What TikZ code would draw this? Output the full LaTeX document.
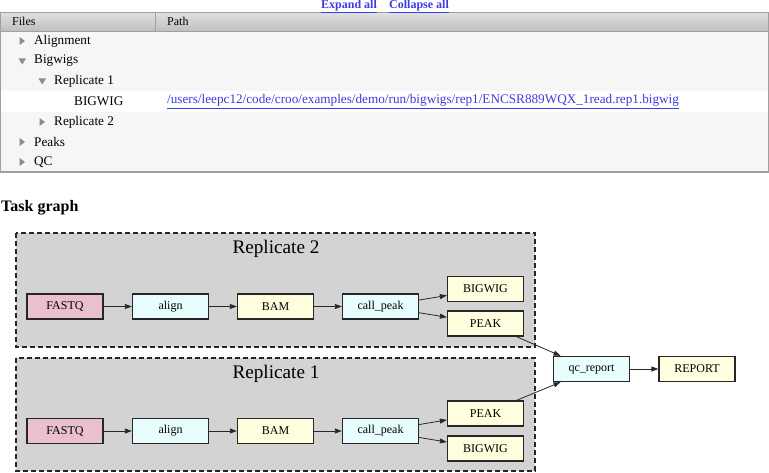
\documentclass[tikz,border=0pt]{standalone}
\usepackage{fontspec}
\setmainfont{Liberation Serif}
\usetikzlibrary{arrows.meta,calc}
\definecolor{linkblue}{RGB}{60,60,225}
\definecolor{rowbg}{RGB}{246,246,246}
\definecolor{tblborder}{RGB}{160,160,160}
\definecolor{tri}{RGB}{140,140,140}
\definecolor{fpink}{RGB}{234,192,204}
\definecolor{fcyan}{RGB}{232,253,253}
\definecolor{fyellow}{RGB}{255,255,224}
\definecolor{clgray}{RGB}{211,211,211}
\definecolor{edgecol}{RGB}{40,40,40}
\tikzset{
  lnk/.style={anchor=base west, inner sep=0, text=linkblue, font=\fontsize{12}{14}\selectfont\bfseries},
  rowtxt/.style={anchor=west, inner sep=0, font=\fontsize{13.2}{15}\selectfont},
  hdrtxt/.style={anchor=west, inner sep=0, font=\fontsize{12}{14}\selectfont},
  task/.style={draw=black!85, line width=1.3pt, minimum width=76pt, minimum height=25pt, inner sep=0, font=\fontsize{12}{14}\selectfont},
  pinkbox/.style={task, fill=fpink},
  cyanbox/.style={task, fill=fcyan},
  yelbox/.style={task, fill=fyellow},
  cluster/.style={draw=black!85, fill=clgray, line width=1.3pt, dash pattern=on 5pt off 3pt},
  cltitle/.style={inner sep=0, font=\fontsize{19.2}{22}\selectfont},
  flow/.style={draw=edgecol, line width=0.8pt, -{Triangle[length=7pt,width=5pt]}},
  rtri/.style={fill=tri, draw=none},
}
\begin{document}
\begin{tikzpicture}[x=1pt,y=-1pt]
\useasboundingbox (0,0) rectangle (769,473);
% table
\fill[rowbg] (0,31) rectangle (769,172);
\fill[white] (1,91.5) rectangle (768,111.7);
\shade[top color=black!12, bottom color=black!25] (0,12.5) rectangle (769,31);
\draw[tblborder, line width=0.8pt] (0,31) -- (769,31);
\draw[tblborder, line width=0.8pt] (155,12.5) -- (155,31);
\draw[tblborder, line width=1.2pt] (0.6,12.5) rectangle (768.4,172);
% links
\node[lnk] (expand) at (321,8.3) {\underline{Expand all}};
\node[lnk] (collapse) at (389,8.3) {\underline{Collapse all}};
\node[hdrtxt] (hfiles) at (12,21.5) {Files};
\node[hdrtxt] (hpath) at (167,21.5) {Path};
% row triangles
\fill[rtri] (19.5,37) -- (25,41) -- (19.5,45) -- cycle;
\fill[rtri] (18.5,58.5) -- (26,58.5) -- (22.25,64.5) -- cycle;
\fill[rtri] (38.5,78.5) -- (46,78.5) -- (42.25,84.5) -- cycle;
\fill[rtri] (39.5,118) -- (45,122) -- (39.5,126) -- cycle;
\fill[rtri] (19.5,138) -- (25,142) -- (19.5,146) -- cycle;
\fill[rtri] (19.5,158) -- (25,162) -- (19.5,166) -- cycle;
\node[rowtxt] (ralign) at (34,41) {Alignment};
\node[rowtxt] (rbig) at (34,61) {Bigwigs};
\node[rowtxt] (rrep1) at (54,81) {Replicate 1};
\node[rowtxt] (rbw) at (74,101.5) {BIGWIG};
\node[rowtxt, text=linkblue] (rpath) at (167,101.5) {\underline{/users/leepc12/code/croo/examples/demo/run/bigwigs/rep1/ENCSR889WQX\_1read.rep1.bigwig}};
\node[rowtxt] (rrep2) at (54,122) {Replicate 2};
\node[rowtxt] (rpeaks) at (34,142) {Peaks};
\node[rowtxt] (rqc) at (34,162) {QC};
% task graph title
\node[anchor=west, inner sep=0, font=\fontsize{16}{18}\selectfont\bfseries] (tg) at (1,208) {Task graph};
% clusters
\path[cluster] (16,233) rectangle (535,347);
\path[cluster] (16,358) rectangle (535,471);
\node[cltitle] (t2) at (276,249) {Replicate 2};
\node[cltitle] (t1) at (276,373.5) {Replicate 1};
% replicate 2 nodes
\node[pinkbox] (f2) at (65,306.5) {FASTQ};
\node[cyanbox] (a2) at (170.5,306.5) {align};
\node[yelbox] (b2) at (275.5,306.5) {BAM};
\node[cyanbox] (c2) at (380.5,306.5) {call\_peak};
\node[yelbox] (w2) at (485.5,289) {BIGWIG};
\node[yelbox] (p2) at (485.5,323.5) {PEAK};
% replicate 1 nodes
\node[pinkbox] (f1) at (65,431) {FASTQ};
\node[cyanbox] (a1) at (170.5,431) {align};
\node[yelbox] (b1) at (275.5,431) {BAM};
\node[cyanbox] (c1) at (380.5,431) {call\_peak};
\node[yelbox] (p1) at (485.5,413.5) {PEAK};
\node[yelbox] (w1) at (485.5,448.5) {BIGWIG};
% outputs
\node[cyanbox] (qc) at (591.5,369) {qc\_report};
\node[yelbox] (rep) at (697,369) {REPORT};
% edges
\draw[flow] (f2) -- (a2);
\draw[flow] (a2) -- (b2);
\draw[flow] (b2) -- (c2);
\draw[flow] (c2) -- (w2);
\draw[flow] (c2) -- (p2);
\draw[flow] (f1) -- (a1);
\draw[flow] (a1) -- (b1);
\draw[flow] (b1) -- (c1);
\draw[flow] (c1) -- (p1);
\draw[flow] (c1) -- (w1);
\draw[flow] ([xshift=31pt]p2.south) -- ([xshift=-31pt]qc.north);
\draw[flow] ([xshift=31pt]p1.north) -- ([xshift=-31pt]qc.south);
\draw[flow] (qc) -- (rep);
\end{tikzpicture}
\end{document}
